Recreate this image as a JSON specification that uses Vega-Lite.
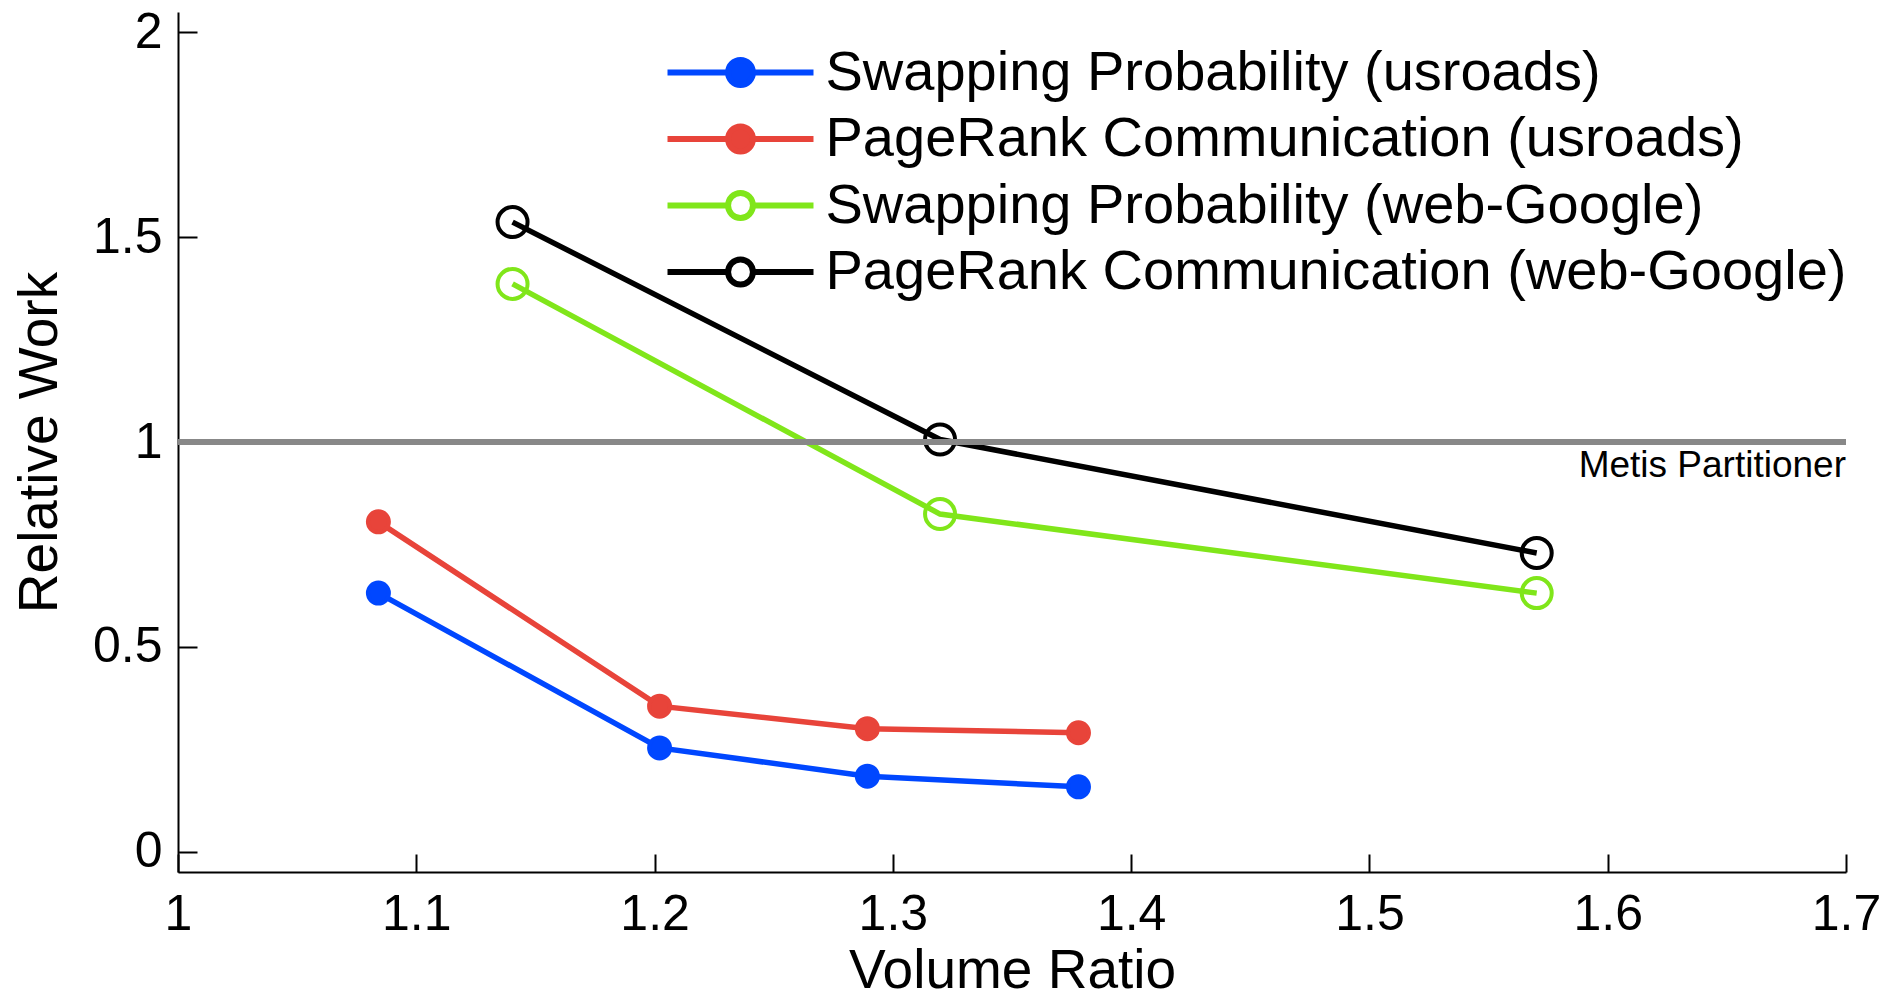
{
  "$schema": "https://vega.github.io/schema/vega-lite/v6.json",
  "width": 1668,
  "height": 860,
  "autosize": {"type": "none"},
  "padding": {"left": 178, "top": 12, "right": 47, "bottom": 127},
  "background": "white",
  "config": {
    "view": {"stroke": null},
    "font": "Liberation Sans",
    "axis": {
      "grid": false,
      "domainColor": "black",
      "domainWidth": 2,
      "tickColor": "black",
      "tickWidth": 2,
      "labelColor": "black",
      "titleColor": "black",
      "titleFontWeight": "normal",
      "labelFont": "Liberation Sans",
      "titleFont": "Liberation Sans"
    },
    "legend": {
      "title": null,
      "orient": "none",
      "legendX": 486.5,
      "legendY": 40.5,
      "padding": 0,
      "symbolType": "M-1,0H-0.17A0.17,0.17 0 1 1 0.17,0A0.17,0.17 0 1 1 -0.17,0M0.17,0H1",
      "symbolSize": 21316,
      "symbolStrokeWidth": 6,
      "clipHeight": 40,
      "labelFontSize": 56,
      "labelColor": "black",
      "labelOffset": 9,
      "labelLimit": 2000,
      "rowPadding": 10.5
    }
  },
  "datasets": {
    "series": [
      {"series": "Swapping Probability (usroads)", "ratio": 1.0841, "work": 0.631},
      {"series": "Swapping Probability (usroads)", "ratio": 1.2021, "work": 0.253},
      {"series": "Swapping Probability (usroads)", "ratio": 1.2893, "work": 0.184},
      {"series": "Swapping Probability (usroads)", "ratio": 1.3779, "work": 0.158},
      {"series": "PageRank Communication (usroads)", "ratio": 1.0841, "work": 0.805},
      {"series": "PageRank Communication (usroads)", "ratio": 1.2021, "work": 0.355},
      {"series": "PageRank Communication (usroads)", "ratio": 1.2893, "work": 0.300},
      {"series": "PageRank Communication (usroads)", "ratio": 1.3779, "work": 0.290},
      {"series": "Swapping Probability (web-Google)", "ratio": 1.1404, "work": 1.386},
      {"series": "Swapping Probability (web-Google)", "ratio": 1.3198, "work": 0.824},
      {"series": "Swapping Probability (web-Google)", "ratio": 1.5702, "work": 0.631},
      {"series": "PageRank Communication (web-Google)", "ratio": 1.1404, "work": 1.537},
      {"series": "PageRank Communication (web-Google)", "ratio": 1.3198, "work": 1.006},
      {"series": "PageRank Communication (web-Google)", "ratio": 1.5702, "work": 0.729}
    ],
    "reference": [
      {"work": 1, "ratio": 1.7, "label": "Metis Partitioner"}
    ]
  },
  "layer": [
    {
      "data": {"name": "series"},
      "mark": {"type": "line", "strokeWidth": 5.5},
      "encoding": {
        "x": {
          "field": "ratio", "type": "quantitative",
          "scale": {"domain": [1, 1.7], "nice": false, "zero": false},
          "axis": {
            "values": [1, 1.1, 1.2, 1.3, 1.4, 1.5, 1.6, 1.7],
            "format": "~g",
            "labelFontSize": 50,
            "tickSize": -18,
            "labelPadding": 35,
            "labelFlush": false,
            "labelOverlap": false,
            "title": "Volume Ratio",
            "titleFontSize": 55,
            "titlePadding": 5
          }
        },
        "y": {
          "field": "work", "type": "quantitative",
          "scale": {"domain": [-0.05, 2.05], "nice": false, "zero": false},
          "axis": {
            "values": [0, 0.5, 1, 1.5, 2],
            "format": "~g",
            "labelFontSize": 50,
            "tickSize": -19,
            "labelPadding": 35,
            "labelOverlap": false,
            "title": "Relative Work",
            "titleFontSize": 55,
            "titlePadding": 24
          }
        },
        "color": {
          "field": "series", "type": "nominal",
          "scale": {
            "domain": ["Swapping Probability (usroads)", "PageRank Communication (usroads)", "Swapping Probability (web-Google)", "PageRank Communication (web-Google)"],
            "range": ["#0047FF", "#E8443A", "#80E61A", "#000000"]
          }
        }
      }
    },
    {
      "data": {"name": "series"},
      "transform": [{"filter": "indexof(datum.series, 'usroads') >= 0"}],
      "mark": {"type": "point", "shape": "circle", "filled": false, "size": 441, "opacity": 1, "strokeWidth": 4},
      "encoding": {
        "x": {"field": "ratio", "type": "quantitative"},
        "y": {"field": "work", "type": "quantitative"},
        "color": {"field": "series", "type": "nominal"},
        "fill": {
          "field": "series", "type": "nominal",
          "scale": {
            "domain": ["Swapping Probability (usroads)", "PageRank Communication (usroads)", "Swapping Probability (web-Google)", "PageRank Communication (web-Google)"],
            "range": ["#0047FF", "#E8443A", "transparent", "transparent"]
          }
        }
      }
    },
    {
      "data": {"name": "series"},
      "transform": [{"filter": "indexof(datum.series, 'web-Google') >= 0"}],
      "mark": {"type": "point", "shape": "circle", "filled": false, "size": 900, "opacity": 1, "strokeWidth": 4},
      "encoding": {
        "x": {"field": "ratio", "type": "quantitative"},
        "y": {"field": "work", "type": "quantitative"},
        "color": {"field": "series", "type": "nominal"},
        "fill": {"field": "series", "type": "nominal"}
      }
    },
    {
      "data": {"name": "reference"},
      "mark": {"type": "rule", "color": "#888888", "strokeWidth": 6},
      "encoding": {
        "y": {"field": "work", "type": "quantitative"}
      }
    },
    {
      "data": {"name": "reference"},
      "mark": {"type": "text", "align": "right", "baseline": "top", "fontSize": 37, "dy": 6, "color": "black", "font": "Liberation Sans"},
      "encoding": {
        "x": {"field": "ratio", "type": "quantitative"},
        "y": {"field": "work", "type": "quantitative"},
        "text": {"field": "label"}
      }
    }
  ]
}
